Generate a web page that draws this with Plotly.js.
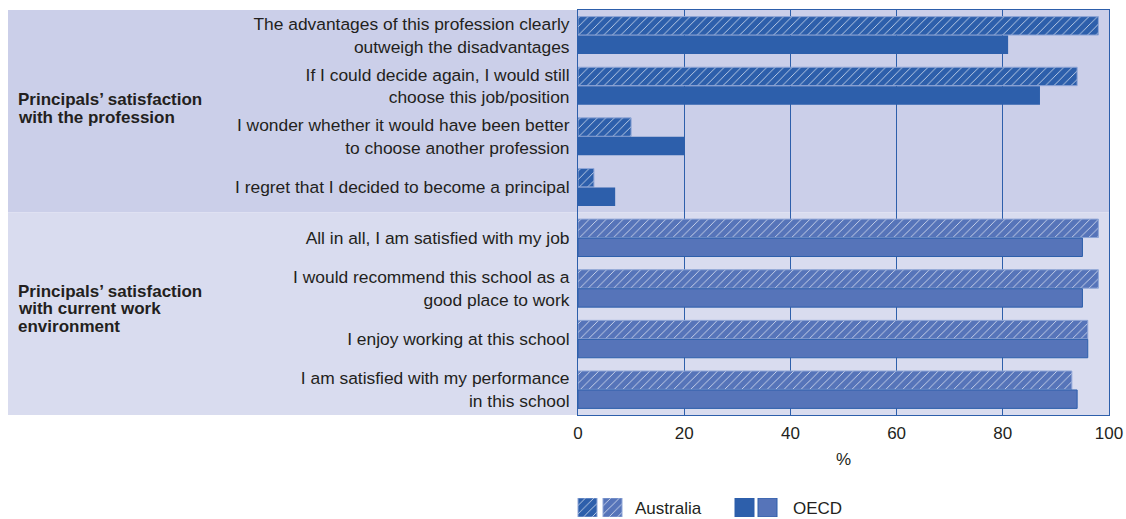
<!DOCTYPE html>
<html>
<head>
<meta charset="utf-8">
<script src="https://cdn.plot.ly/plotly-3.0.1.min.js"></script>
<style>html,body{margin:0;padding:0;background:#fff;}#chart{width:1126px;height:519px;}</style>
</head>
<body>
<div id="chart"></div>
<script>
// ---- Data ----
const categories = [
  "The advantages of this profession clearly<br>outweigh the disadvantages",
  "If I could decide again, I would still<br>choose this job/position",
  "I wonder whether it would have been better<br>to choose another profession",
  "I regret that I decided to become a principal",
  "All in all, I am satisfied with my job",
  "I would recommend this school as a<br>good place to work",
  "I enjoy working at this school",
  "I am satisfied with my performance<br>in this school"
];
const australia = [98, 94, 10, 3, 98, 98, 96, 93];
const oecd = [81, 87, 20, 7, 95, 95, 96, 94];
const groupOf = [0, 0, 0, 0, 1, 1, 1, 1];
const groupLabelLines = [
  ["Principals’ satisfaction", "with the profession"],
  ["Principals’ satisfaction", "with current work", "environment"]
];
const seriesNames = ["Australia", "OECD"];
const xTicks = [0, 20, 40, 60, 80, 100];

// ---- Styling ----
const W = 1126, H = 519;
const plotL = 578, plotR = 1109, plotT = 10, plotB = 415;
const FONT = "Liberation Sans, Arial, Helvetica, sans-serif";
const TEXT = "#231f20";
const DARK = "#2d5fab";
const LIGHT = "#5674b9";
const PANEL = ["#cbcfe9", "#d9dcef"];
const barColor = g => g === 0 ? DARK : LIGHT;

const ausColors = groupOf.map(barColor);
const oecdColors = groupOf.map(barColor);
const ausLine = groupOf.map(() => "#8ea5d6");
const oecdLine = groupOf.map(() => DARK);
const oecdLineW = groupOf.map(g => g === 0 ? 0 : 1);

const hatch = {shape: "/", fillmode: "overlay", fgcolor: "rgba(225,232,250,0.9)", fgopacity: 1, size: 6, solidity: 0.11};

const traces = [
  {
    type: "bar", orientation: "h", name: seriesNames[0],
    x: australia, y: categories,
    marker: {color: ausColors, line: {color: ausLine, width: 1}, pattern: hatch},
    hoverinfo: "x+name", showlegend: false
  },
  {
    type: "bar", orientation: "h", name: seriesNames[1],
    x: oecd, y: categories,
    marker: {color: oecdColors, line: {color: oecdLine, width: oecdLineW}},
    hoverinfo: "x+name", showlegend: false
  }
];

// legend swatches drawn on a helper axis (1 unit = 1 px)
const legendSwatchX = [[587.5, 612.5], [744.5, 767.5]];
const legendTextX = [633, 791];
traces.push({
  type: "bar", x: legendSwatchX[0], y: [1, 1], width: 19, base: 0,
  xaxis: "x2", yaxis: "y2",
  marker: {color: [DARK, LIGHT], line: {color: "#8ea5d6", width: 1}, pattern: hatch},
  hoverinfo: "skip", showlegend: false
});
traces.push({
  type: "bar", x: legendSwatchX[1], y: [1, 1], width: 19, base: 0,
  xaxis: "x2", yaxis: "y2",
  marker: {color: [DARK, LIGHT], line: {color: DARK, width: 1}},
  hoverinfo: "skip", showlegend: false
});

const nTop = groupOf.filter(g => g === 0).length;
const shapes = [
  {type: "rect", layer: "below", xref: "paper", yref: "y", x0: 8 / W, x1: plotR / W, y0: -0.5, y1: nTop - 0.5, fillcolor: PANEL[0], line: {width: 0}},
  {type: "rect", layer: "below", xref: "paper", yref: "y", x0: 8 / W, x1: plotR / W, y0: nTop - 0.5, y1: categories.length - 0.5, fillcolor: PANEL[1], line: {width: 0}}
];

// group labels: one annotation per line for tighter line spacing
const groupLineY = [[100, 118], [291, 308.5, 326]];
const annotations = [];
groupLabelLines.forEach((lines, g) => {
  lines.forEach((txt, i) => {
    annotations.push({xref: "paper", yref: "paper", x: 16 / W, y: 1 - groupLineY[g][i] / H,
      xanchor: "left", yanchor: "middle", align: "left", showarrow: false,
      text: "<b>" + txt + "</b>", font: {family: FONT, size: 17, color: TEXT}});
  });
});
seriesNames.forEach((name, i) => {
  annotations.push({xref: "paper", yref: "paper", x: legendTextX[i] / W, y: 1 - 508 / H,
    xanchor: "left", yanchor: "middle", showarrow: false,
    text: name, font: {family: FONT, size: 17, color: TEXT}});
});

const layout = {
  width: W, height: H,
  margin: {l: 0, r: 0, t: 0, b: 0, pad: 0},
  paper_bgcolor: "#ffffff", plot_bgcolor: "rgba(0,0,0,0)",
  font: {family: FONT, size: 17, color: TEXT},
  barmode: "group", bargap: 0.25, bargroupgap: 0.03,
  showlegend: false,
  xaxis: {
    domain: [plotL / W, plotR / W], range: [0, 100], tickvals: xTicks,
    showgrid: true, gridcolor: DARK, gridwidth: 1, zeroline: false,
    showline: true, linecolor: DARK, linewidth: 1, mirror: true,
    ticks: "", ticklabelstandoff: 3,
    tickfont: {family: FONT, size: 17, color: TEXT},
    title: {text: "%", font: {family: FONT, size: 17, color: TEXT}, standoff: 10},
    fixedrange: true
  },
  yaxis: {
    domain: [1 - plotB / H, 1 - plotT / H], type: "category",
    categoryorder: "array", categoryarray: categories,
    range: [categories.length - 0.5, -0.5],
    showgrid: false, zeroline: false,
    showline: true, linecolor: DARK, linewidth: 1, mirror: true,
    ticks: "", ticklabelstandoff: 4,
    tickfont: {family: FONT, size: 17.4, color: TEXT},
    fixedrange: true
  },
  xaxis2: {domain: [0, 1], range: [0, W], visible: false, fixedrange: true, anchor: "y2"},
  yaxis2: {domain: [1 - 517 / H, 1 - 498 / H], range: [0, 1], visible: false, fixedrange: true, anchor: "x2"},
  shapes: shapes,
  annotations: annotations
};

Plotly.newPlot("chart", traces, layout, {displayModeBar: false, staticPlot: true});
</script>
</body>
</html>
